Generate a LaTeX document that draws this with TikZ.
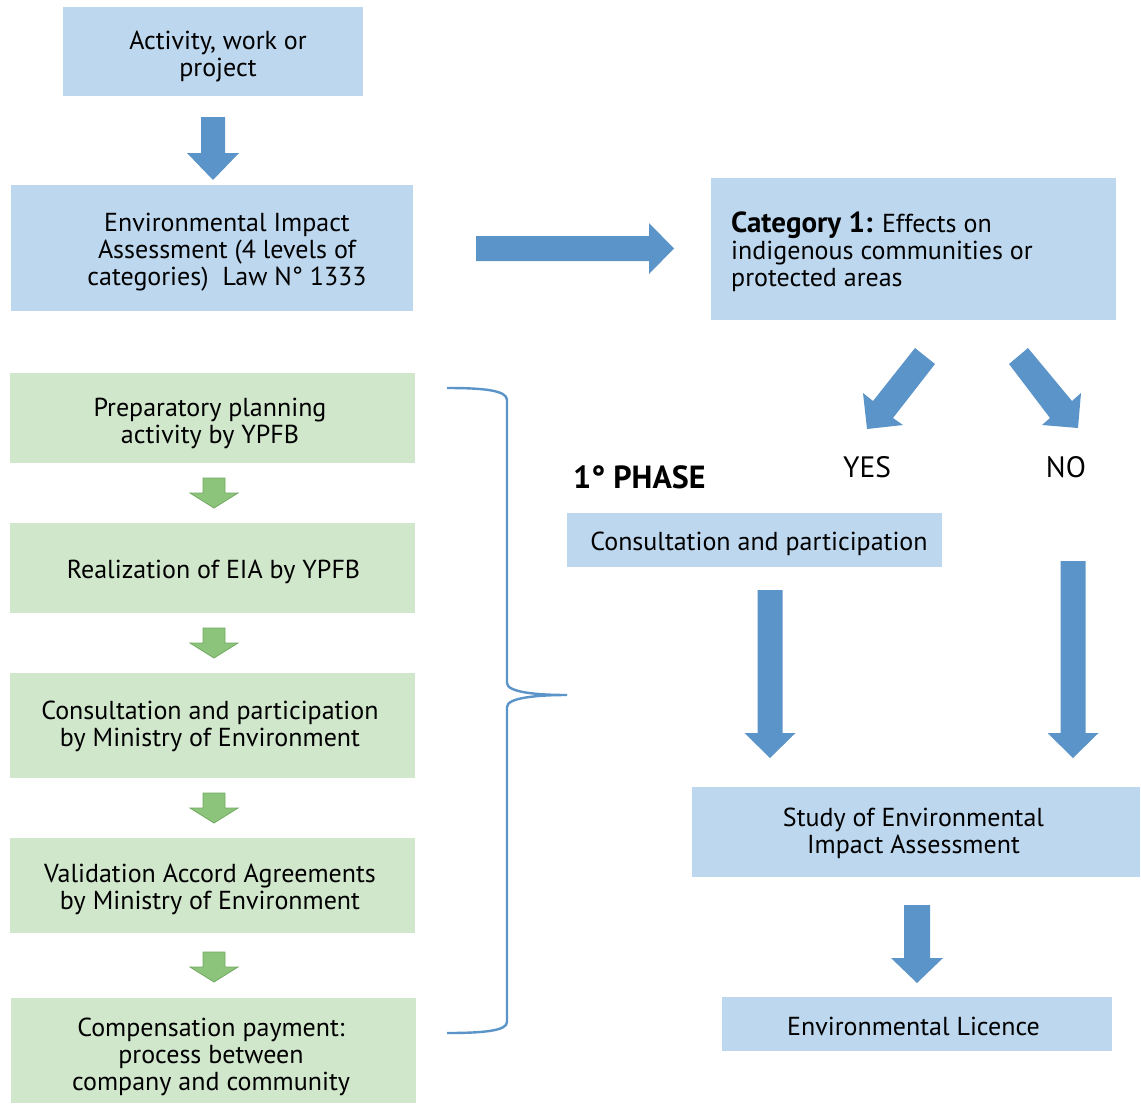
\documentclass[tikz,border=0pt]{standalone}
\usepackage{fontspec}
\setmainfont{PT Sans}
\definecolor{boxblue}{HTML}{BDD7EE}
\definecolor{arrowblue}{HTML}{5B94C8}
\definecolor{boxgreen}{HTML}{D0E7CC}
\definecolor{greenfill}{HTML}{8DC47C}
\definecolor{greenline}{HTML}{72A962}
\newcommand\blkdown[7]{% style, cx, top, headtop, tip, shaft half, head half
  \path[#1] ({#2-#6},#3) -- ({#2+#6},#3) -- ({#2+#6},#4) -- ({#2+#7},#4) -- (#2,#5)
    -- ({#2-#7},#4) -- ({#2-#6},#4) -- cycle;}
\begin{document}
\begin{tikzpicture}[x=1pt,y=-1pt,
  txt/.style={font=\fontsize{26}{27}\selectfont, align=center, inner sep=0pt},
  boxtxt/.style={txt, yshift=-2.5pt},
  bluebox/.style={fill=boxblue, inner sep=0pt},
  greenbox/.style={fill=boxgreen, inner sep=0pt},
  barrow/.style={fill=arrowblue},
  garrow/.style={fill=greenfill, draw=greenline, line width=0.8pt},
  brace/.style={draw=arrowblue, line width=2.4pt}]
\useasboundingbox (0,0) rectangle (1141,1104);
% blue boxes
\node[bluebox, minimum width=300pt, minimum height=89pt] (act) at (213,51.5) {};
\node[boxtxt] (actT) at (218,54.5) {Activity, work or\\project};
\node[bluebox, minimum width=402pt, minimum height=126pt] (eia) at (212,248) {};
\node[boxtxt] (eiaT) at (227,250) {Environmental Impact\\Assessment (4 levels of\\categories)\ \ Law N° 1333};
\node[bluebox, minimum width=405pt, minimum height=142pt] (cat) at (913.5,249) {};
\node[boxtxt, anchor=west, align=left] (catT) at (731,249) {{\fontsize{29}{27}\selectfont\bfseries Category 1:} Effects on\\indigenous communities or\\protected areas};
\node[bluebox, minimum width=375pt, minimum height=54pt] (cons) at (754.5,540) {};
\node[boxtxt] (consT) at (759,541) {Consultation and participation};
\node[bluebox, minimum width=448pt, minimum height=90pt] (study) at (916,832) {};
\node[boxtxt] (studyT) at (913.5,831) {Study of Environmental\\Impact Assessment};
\node[bluebox, minimum width=390pt, minimum height=54pt] (lic) at (917,1024) {};
\node[boxtxt] (licT) at (913.5,1024) {Environmental Licence};
% labels
\node[txt, anchor=west, font=\fontsize{32}{34}\selectfont\bfseries] (phase) at (573,477) {1° PHASE};
\node[txt, font=\fontsize{29.5}{32}\selectfont] (yes) at (867,467) {YES};
\node[txt, font=\fontsize{29.5}{32}\selectfont] (no) at (1066,467) {NO};
% green boxes
\node[greenbox, minimum width=405pt, minimum height=90pt] (g1) at (212.5,418) {};
\node[boxtxt] (g1T) at (210,421) {Preparatory planning\\activity by YPFB};
\node[greenbox, minimum width=405pt, minimum height=90pt] (g2) at (212.5,568) {};
\node[boxtxt] (g2T) at (213.5,569) {Realization of EIA by YPFB};
\node[greenbox, minimum width=405pt, minimum height=105pt] (g3) at (212.5,725.5) {};
\node[boxtxt] (g3T) at (210,724) {Consultation and participation\\by Ministry of Environment};
\node[greenbox, minimum width=405pt, minimum height=95pt] (g4) at (212.5,885.5) {};
\node[boxtxt] (g4T) at (210,886.5) {Validation Accord Agreements\\by Ministry of Environment};
\node[greenbox, minimum width=405pt, minimum height=105pt] (g5) at (213,1050.5) {};
\node[boxtxt] (g5T) at (211,1054) {Compensation payment:\\process between\\company and community};
% blue block arrows
\blkdown{barrow}{213}{117}{153}{180}{12}{26}
\path[barrow] (476,236) -- (649,236) -- (649,223) -- (674,248.5) -- (649,274) -- (649,261) -- (476,261) -- cycle;
\path[barrow] (915,348) -- (935,364) -- (893,418) -- (903,425) -- (867,429) -- (863,393) -- (873,401) -- cycle;
\path[barrow] (1028,348) -- (1009,364) -- (1050,418) -- (1042,425) -- (1078,428) -- (1081,393) -- (1072,401) -- cycle;
\blkdown{barrow}{770}{590}{733}{758}{12.5}{25.5}
\blkdown{barrow}{1073}{561}{733}{758}{12.5}{25.5}
\blkdown{barrow}{917}{905}{958}{983}{13}{26}
% green block arrows
\blkdown{garrow}{214}{478}{493}{508}{11}{24}
\blkdown{garrow}{214}{628}{643}{658}{11}{24}
\blkdown{garrow}{214}{793}{808}{823}{11}{24}
\blkdown{garrow}{214}{952}{967}{982}{11}{24}
% brace
\coordinate (btip) at (567,695);
\draw[brace] (447,388) .. controls (482,388) and (507,390) .. (507,400) -- (507,683)
  .. controls (507,692) and (535,695) .. (btip)
  .. controls (535,695) and (507,698) .. (507,707) -- (507,1022)
  .. controls (507,1031) and (482,1033) .. (447,1033);
\end{tikzpicture}
\end{document}
